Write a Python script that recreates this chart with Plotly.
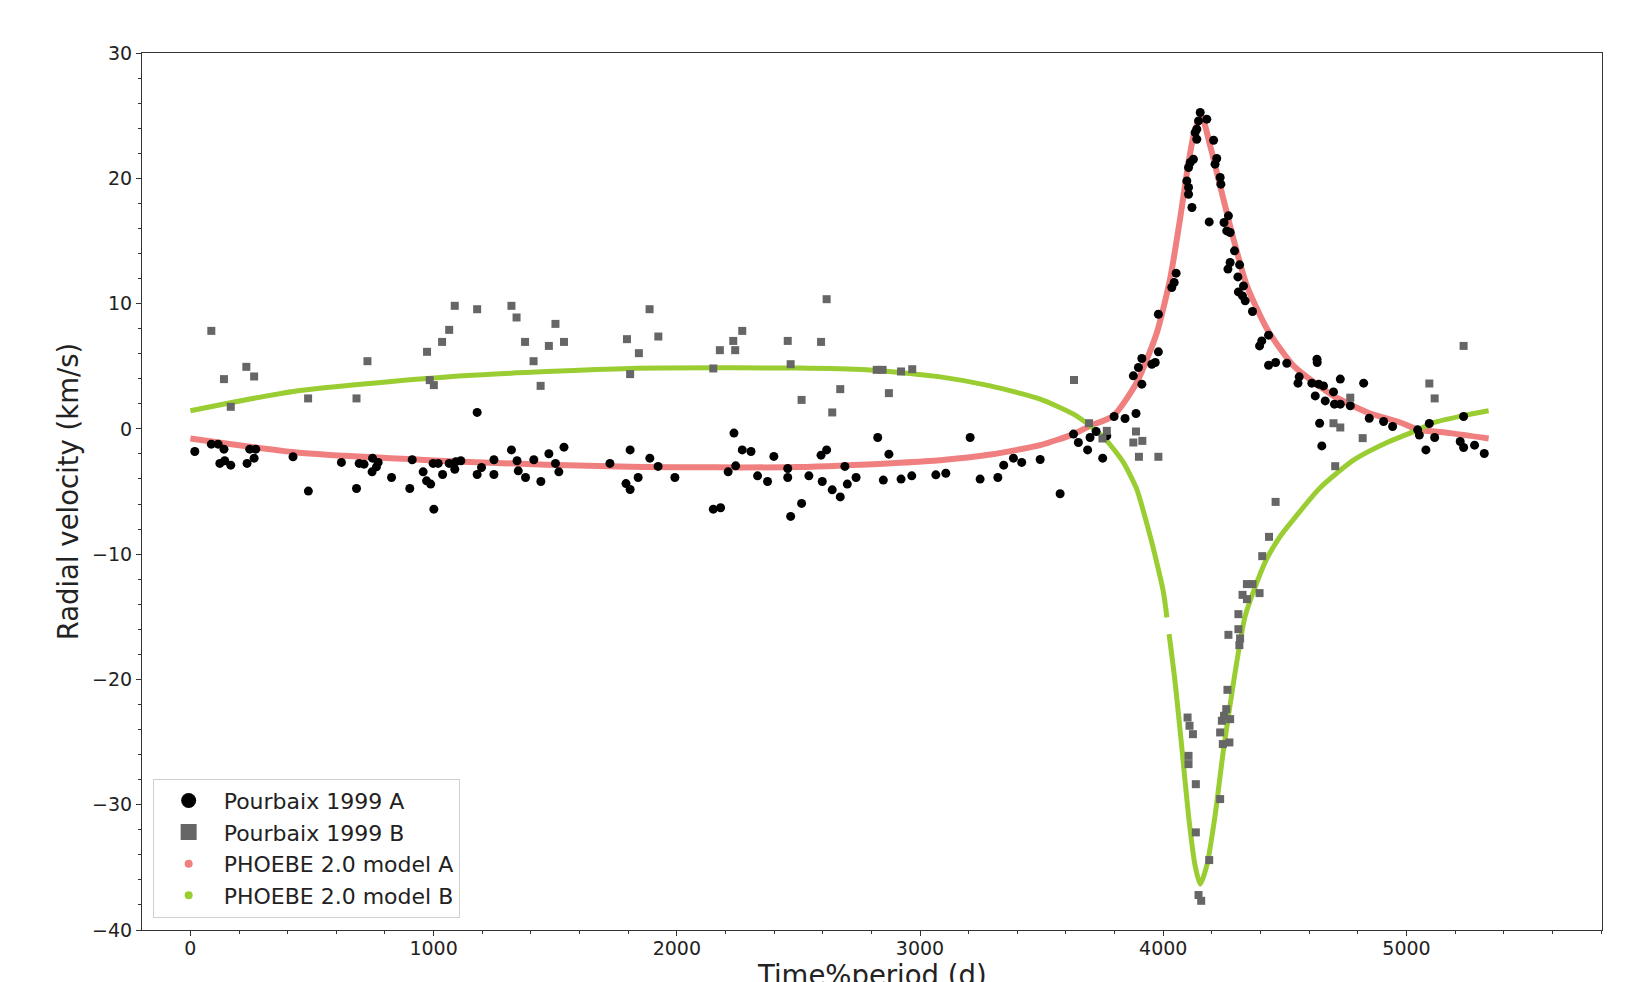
import plotly.graph_objects as go

# --- PHOEBE 2.0 model curves (time % period in days, RV in km/s) ---
model_a_t = [0, 436, 1121, 1807, 2500, 2918, 3083, 3289, 3494, 3631, 3699, 3795,
             3891, 3974, 4028, 4069, 4104, 4131, 4159, 4193, 4234, 4289, 4344,
             4427, 4536, 4700, 4840, 4975, 5046, 5180, 5338]
model_a_rv = [-0.77, -1.88, -2.63, -3.03, -3.05, -2.7, -2.5, -2.05, -1.3, -0.42, 0.24, 1.04,
              3.70, 7.69, 11.95, 16.74, 21.26, 23.92, 24.85, 22.59, 19.39, 15.14, 11.41,
              7.96, 5.03, 2.63, 1.31, 0.51, -0.05, -0.34, -0.77]

model_b_t = [0, 436, 1121, 1807, 2500, 2781, 3083, 3289, 3494, 3631, 3699, 3768,
             3836, 3891, 3946, 3960, 4001, 4015, None, 4024, 4049, 4077, 4104, 4131,
             4152, 4179, 4213, 4248, 4289, 4337, 4420, 4480, 4549, 4645, 4782, 4920,
             5045, 5112, 5220, 5338]
model_b_rv = [1.44, 3.03, 4.23, 4.82, 4.85, 4.71, 4.15, 3.43, 2.37, 1.17, 0.24, -0.96,
              -2.68, -4.81, -8.54, -9.6, -13.06, -15.05, None, -16.38, -20.24, -25.56, -30.88, -34.87,
              -36.34, -34.87, -30.88, -25.56, -20.24, -14.92, -10.6, -8.6, -6.9, -4.7, -2.5, -1.09,
              -0.1, 0.5, 1.0, 1.44]

# --- Pourbaix 1999 measurements, component A ---
obs_a_t = [18, 86, 114, 138, 121, 141, 166, 244, 269, 262, 233, 422, 485, 621, 683, 694,
           714, 749, 772, 765, 747, 827, 902, 912, 957, 971, 988, 1001, 998, 1019, 1037,
           1064, 1087, 1091, 1112, 1179, 1179, 1197, 1248, 1248, 1320, 1343, 1348, 1378,
           1412, 1441, 1474, 1501, 1515, 1536, 1725, 1791, 1808, 1808, 1841, 1889, 1923,
           1992, 2150, 2180, 2211, 2242, 2235, 2269, 2305, 2332, 2373, 2399, 2456, 2456,
           2468, 2513, 2543, 2593, 2616, 2598, 2639, 2672, 2691, 2701, 2737, 2826, 2872,
           2849, 2922, 2966, 3065, 3106, 3206, 3247, 3320, 3344, 3384, 3418, 3494, 3576,
           3631, 3651, 3689, 3699, 3724, 3768, 3751, 3798, 3843, 3888, 3912, 3898, 3877,
           3912, 3953, 3967, 3980, 3980, 4035, 4045, 4053, 4097, 4104, 4104, 4104, 4111,
           4118, 4124, 4131, 4138, 4138, 4145, 4152, 4179, 4189, 4207, 4213, 4220, 4234,
           4237, 4250, 4261, 4268, 4275, 4266, 4275, 4293, 4307, 4314, 4309, 4326, 4330,
           4337, 4367, 4396, 4405, 4433, 4433, 4462, 4508, 4554, 4559, 4611, 4625, 4632,
           4633, 4639, 4643, 4652, 4659, 4666, 4700, 4704, 4728, 4728, 4769, 4824, 4847,
           4906, 4943, 5046, 5053, 5080, 5094, 5116, 5221, 5235, 5235, 5280, 5320]
obs_a_rv = [-1.81, -1.22, -1.22, -1.62, -2.76, -2.55, -2.90, -1.62, -1.62, -2.34, -2.76,
            -2.23, -4.97, -2.68, -4.76, -2.76, -2.82, -2.34, -2.68, -3.03, -3.43, -3.88,
            -4.76, -2.47, -3.43, -4.15, -4.41, -6.41, -2.76, -2.76, -3.64, -2.76, -3.22,
            -2.63, -2.55, 1.31, -3.64, -3.08, -2.47, -3.64, -1.68, -2.55, -3.35, -3.88,
            -2.47, -4.20, -1.99, -2.76, -3.43, -1.46, -2.76, -4.37, -4.84, -1.68, -3.88,
            -2.34, -3.00, -3.88, -6.41, -6.30, -3.43, -2.95, -0.34, -1.68, -1.81, -3.75,
            -4.20, -2.20, -3.16, -3.88, -6.99, -5.95, -3.75, -2.10, -1.68, -4.20, -4.87,
            -5.43, -3.00, -4.41, -3.88, -0.69, -2.02, -4.09, -4.01, -3.75, -3.67, -3.54,
            -0.69, -4.01, -3.88, -2.90, -2.34, -2.68, -2.45, -5.18, -0.42, -1.09, -1.68,
            -0.69, -0.21, -0.56, -2.34, 0.99, 0.83, 1.23, 3.57, 4.90, 4.23, 5.62, 5.16,
            5.30, 6.15, 9.15, 11.28, 11.68, 12.43, 19.79, 19.27, 18.73, 20.86, 21.26,
            17.67, 21.52, 23.65, 23.92, 23.12, 24.58, 25.25, 24.72, 16.52, 23.04, 21.13,
            21.58, 20.06, 19.53, 16.47, 15.80, 17.00, 15.67, 12.75, 13.28, 14.21, 12.13,
            13.09, 10.93, 10.61, 11.41, 10.22, 9.37, 6.62, 7.02, 7.48, 5.08, 5.30, 5.24,
            3.65, 4.15, 3.65, 2.63, 5.56, 5.30, 3.57, 0.45, -1.36, 3.43, 2.23, 2.95, 1.97,
            1.97, 3.97, 1.84, 3.65, 0.85, 0.59, 0.19, -0.08, -0.50, -1.68, 0.43, -0.69,
            -1.01, 0.99, -1.49, -1.30, -1.97]

# --- Pourbaix 1999 measurements, component B ---
obs_b_t = [86, 138, 166, 230, 262, 484, 683, 728, 973, 984, 1001, 1035, 1064, 1087, 1179,
           1320, 1341, 1376, 1411, 1440, 1474, 1501, 1536, 1795, 1808, 1844, 1888, 1924,
           2150, 2177, 2232, 2240, 2269, 2456, 2468, 2513, 2593, 2616, 2639, 2672, 2822,
           2846, 2872, 2922, 2968, 3633, 3695, 3768, 3750, 3888, 3877, 3914, 3900, 3980,
           4700, 4728, 4769, 4820, 4707, 4462, 4435, 4407, 4344, 4367, 4396, 4326, 4344,
           4309, 4309, 4268, 4316, 4313, 4264, 4259, 4250, 4275, 4241, 4234, 4245, 4272,
           4234, 4189, 4145, 4156, 4100, 4108, 4122, 4104, 4104, 4134, 4134, 5094, 5116,
           5235]
obs_b_rv = [7.82, 3.97, 1.76, 4.95, 4.18, 2.43, 2.43, 5.40, 6.15, 3.89, 3.49, 6.94, 7.90,
            9.82, 9.55, 9.82, 8.89, 6.94, 5.40, 3.43, 6.62, 8.38, 6.94, 7.16, 4.37, 6.04,
            9.55, 7.37, 4.82, 6.28, 7.02, 6.28, 7.82, 7.02, 5.16, 2.31, 6.94, 10.35, 1.31,
            3.17, 4.71, 4.71, 2.85, 4.58, 4.76, 3.90, 0.45, -0.16, -0.77, -0.21, -1.09,
            -0.96, -2.23, -2.23, 0.45, 0.11, 2.49, -0.74, -2.98, -5.83, -8.62, -10.16,
            -12.39, -12.39, -13.11, -13.25, -13.59, -14.79, -15.99, -16.44, -16.73, -17.26,
            -20.83, -22.37, -22.90, -23.17, -23.30, -24.23, -25.16, -25.03, -29.55, -34.42,
            -37.21, -37.67, -23.04, -23.70, -24.37, -26.10, -26.76, -28.36, -32.21, 3.62,
            2.43, 6.62]

names = ["Pourbaix 1999 A", "Pourbaix 1999 B", "PHOEBE 2.0 model A", "PHOEBE 2.0 model B"]
x_title = "Time%period (d)"
y_title = "Radial velocity (km/s)"
c_a, c_b = "#000000", "#666666"
c_ma, c_mb = "#F08080", "#9ACD32"

FONT = "DejaVu Sans"

fig = go.Figure()

# model curves (drawn beneath the measurements)
fig.add_trace(go.Scatter(x=model_a_t, y=model_a_rv, mode="lines", showlegend=False,
                         line=dict(color=c_ma, width=6, shape="spline", smoothing=0.6)))
fig.add_trace(go.Scatter(x=model_b_t, y=model_b_rv, mode="lines", showlegend=False,
                         line=dict(color=c_mb, width=5, shape="spline", smoothing=0.6),
                         connectgaps=False))

# observations
fig.add_trace(go.Scatter(x=obs_a_t, y=obs_a_rv, mode="markers", showlegend=False,
                         marker=dict(symbol="circle", size=9, color=c_a, line=dict(width=0))))
fig.add_trace(go.Scatter(x=obs_b_t, y=obs_b_rv, mode="markers", showlegend=False,
                         marker=dict(symbol="square", size=8, color=c_b, line=dict(width=0))))

# legend entries
legend_marks = [("circle", 15, c_a), ("square", 16, c_b), ("circle", 8, c_ma), ("circle", 8, c_mb)]
for nm, (sym, sz, col) in zip(names, legend_marks):
    fig.add_trace(go.Scatter(x=[None], y=[None], mode="markers", name=nm,
                             marker=dict(symbol=sym, size=sz, color=col, line=dict(width=0))))

axis_common = dict(
    showline=True, mirror=True, linecolor="#333333", linewidth=1.2,
    ticks="outside", ticklen=5, tickwidth=1.2, tickcolor="#333333",
    showgrid=False, zeroline=False, automargin=False,
    tickfont=dict(family=FONT, size=19, color="#222222"),
)

fig.update_layout(
    width=1627, height=982,
    margin=dict(l=142, r=25, t=53, b=52),
    paper_bgcolor="white", plot_bgcolor="white",
    font=dict(family=FONT, color="#222222"),
    xaxis=dict(range=[-199, 5804], dtick=1000, tick0=0, ticklabelstandoff=-4,
               minor=dict(dtick=200, ticklen=3, tickwidth=1, tickcolor="#333333", ticks="outside"),
               **axis_common),
    yaxis=dict(range=[-40, 30], dtick=10, tick0=0,
               minor=dict(dtick=2, ticklen=3, tickwidth=1, tickcolor="#333333", ticks="outside"),
               title=dict(text=y_title, font=dict(family=FONT, size=27.5, color="#222222"),
                          standoff=5),
               **axis_common),
    legend=dict(x=0.0073, y=0.014, xanchor="left", yanchor="bottom",
                bgcolor="rgba(255,255,255,0.85)", bordercolor="#d0d0d0", borderwidth=1,
                font=dict(family=FONT, size=22, color="#222222"),
                itemwidth=60, tracegroupgap=0),
    showlegend=True,
)

# x-axis title sits low in the bottom margin, partly running off the canvas edge
fig.add_annotation(text=x_title, xref="paper", yref="paper", x=0.5, y=-0.031,
                   xanchor="center", yanchor="top", showarrow=False,
                   font=dict(family=FONT, size=27.5, color="#222222"))

fig.write_html("out.html")
